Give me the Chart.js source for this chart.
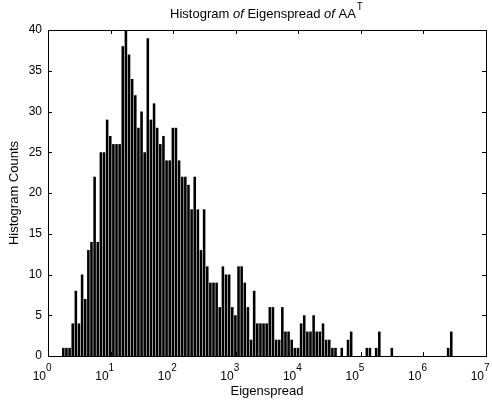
<!DOCTYPE html>
<html>
<head>
<meta charset="utf-8">
<script src="https://cdn.jsdelivr.net/npm/chart.js@4.4.0/dist/chart.umd.min.js"></script>
<style>
html, body { margin: 0; padding: 0; background: #fff; }
</style>
</head>
<body>
<canvas id="hist" width="492" height="400"></canvas>
<script>
// histogram bins, in decades (log10 of eigenspread)
const binStart = 0.22;
const binWidth = 0.05;
const counts = [
  1, 1, 1, 4, 8, 4, 10, 7, 13, 14,
  22, 14, 25, 25, 29, 27, 26, 26, 26, 38,
  40, 37, 34, 32, 28, 30, 25, 39, 29, 31,
  28, 26, 27, 24, 24, 28, 28, 24, 22, 22,
  21, 18, 22, 18, 13, 18, 11, 9, 9, 9,
  6, 11, 10, 10, 6, 5, 11, 11, 9, 6,
  2, 8, 4, 4, 4, 4, 6, 6, 2, 2,
  6, 3, 3, 2, 1, 1, 4, 5, 3, 3,
  5, 3, 3, 4, 2, 2, 1, 1, 0, 1,
  0, 2, 3, 0, 0, 0, 0, 1, 1, 0,
  1, 3, 0, 0, 0, 1, 0, 0, 0, 0,
  0, 0, 0, 0, 0, 0, 0, 0, 0, 0,
  0, 0, 0, 1, 3
];
const xExponents = [0, 1, 2, 3, 4, 5, 6, 7];
const yTicks = [0, 5, 10, 15, 20, 25, 30, 35, 40];

const FONT = '"Liberation Sans", Arial, sans-serif';

const points = counts.map((c, i) => ({ x: binStart + (i + 0.5) * binWidth, y: c }));

// frame, inward ticks and matlab style labels
const axesPlugin = {
  id: 'axesPlugin',
  afterDraw(chart) {
    const ctx = chart.ctx;
    const a = chart.chartArea;
    const xs = chart.scales.x, ys = chart.scales.y;
    ctx.save();
    ctx.strokeStyle = '#000';
    ctx.lineWidth = 1;
    ctx.strokeRect(Math.round(a.left) + 0.5, Math.round(a.top) + 0.5,
      Math.round(a.right - a.left), Math.round(a.bottom - a.top));

    ctx.beginPath();
    xExponents.forEach(e => {
      const px = Math.round(xs.getPixelForValue(e)) + 0.5;
      ctx.moveTo(px, a.bottom); ctx.lineTo(px, a.bottom - 4);
      ctx.moveTo(px, a.top); ctx.lineTo(px, a.top + 4);
    });
    yTicks.forEach(v => {
      const py = Math.round(ys.getPixelForValue(v)) + 0.5;
      ctx.moveTo(a.left, py); ctx.lineTo(a.left + 4, py);
      ctx.moveTo(a.right, py); ctx.lineTo(a.right - 4, py);
    });
    ctx.stroke();

    ctx.fillStyle = '#000';
    ctx.font = '12px ' + FONT;
    ctx.textAlign = 'right';
    ctx.textBaseline = 'middle';
    yTicks.forEach(v => {
      ctx.fillText(String(v), a.left - 6, ys.getPixelForValue(v));
    });

    xExponents.forEach(e => {
      const px = xs.getPixelForValue(e);
      ctx.font = '12px ' + FONT;
      ctx.textAlign = 'right';
      ctx.fillText('10', px - 2, 377);
      ctx.font = '10px ' + FONT;
      ctx.textAlign = 'left';
      ctx.fillText(String(e), px - 2, 368);
    });

    ctx.font = '13px ' + FONT;
    ctx.textAlign = 'center';
    ctx.fillText('Eigenspread', 267, 391);

    ctx.save();
    ctx.translate(14, 193);
    ctx.rotate(-Math.PI / 2);
    ctx.fillText('Histogram Counts', 0, 0);
    ctx.restore();

    // title with italic "of" and superscript T
    const parts = [
      ['Histogram ', '13px ' + FONT],
      ['of', 'italic 13px ' + FONT],
      [' Eigenspread ', '13px ' + FONT],
      ['of', 'italic 13px ' + FONT],
      [' AA', '13px ' + FONT]
    ];
    let total = 0;
    parts.forEach(p => { ctx.font = p[1]; total += ctx.measureText(p[0]).width; });
    ctx.font = '10px ' + FONT;
    const tW = ctx.measureText('T').width;
    let tx = 266 - (total + tW) / 2;
    ctx.textAlign = 'left';
    parts.forEach(p => {
      ctx.font = p[1];
      ctx.fillText(p[0], tx, 14);
      tx += ctx.measureText(p[0]).width;
    });
    ctx.font = '10px ' + FONT;
    ctx.fillText('T', tx + 1, 7);
    ctx.restore();
  }
};

new Chart(document.getElementById('hist'), {
  type: 'bar',
  data: {
    datasets: [{
      data: points,
      backgroundColor: '#000',
      borderWidth: 0,
      barPercentage: 0.82,
      categoryPercentage: 1
    }]
  },
  options: {
    responsive: false,
    animation: false,
    devicePixelRatio: 1,
    layout: { padding: { left: 48, right: 6, top: 30, bottom: 44 } },
    scales: {
      x: { type: 'linear', min: 0, max: 7, offset: false, display: false },
      y: { min: 0, max: 40, display: false }
    },
    plugins: { legend: { display: false }, tooltip: { enabled: false } }
  },
  plugins: [axesPlugin]
});
</script>
</body>
</html>
